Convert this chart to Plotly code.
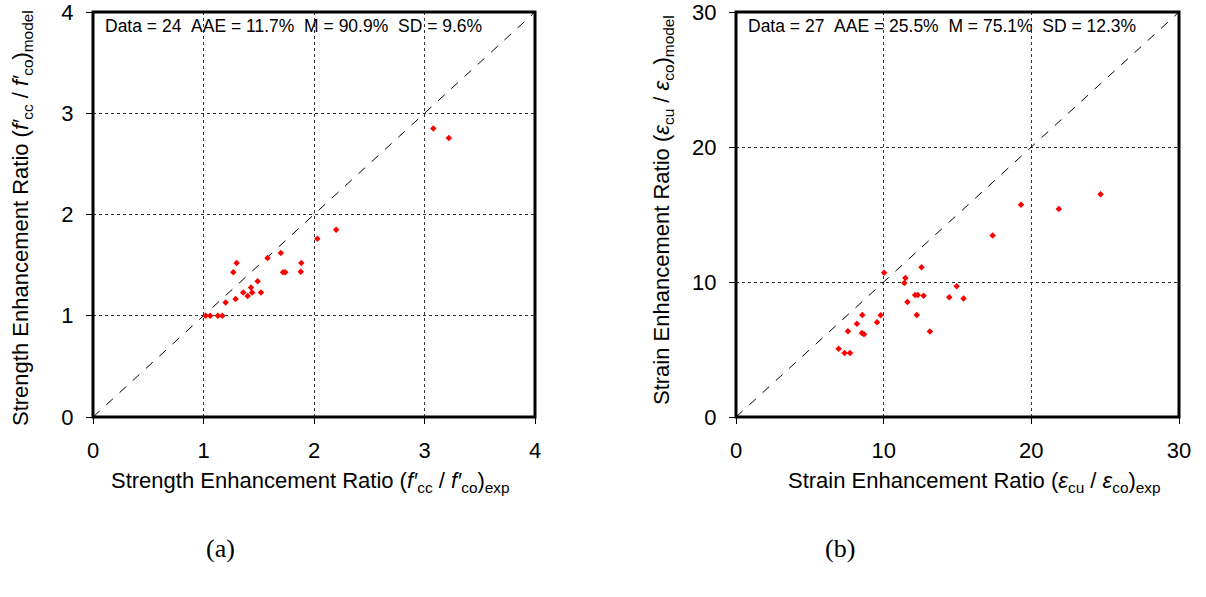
import plotly.graph_objects as go

# (a) strength enhancement ratio
a_exp = [1.02, 1.06, 1.13, 1.17, 1.20, 1.29, 1.27, 1.30, 1.36, 1.40, 1.43, 1.44,
         1.49, 1.52, 1.58, 1.70, 1.72, 1.74, 1.885, 1.88, 2.03, 2.20, 3.08, 3.22]
a_model = [1.00, 1.00, 1.00, 1.00, 1.13, 1.165, 1.43, 1.52, 1.23, 1.195, 1.28, 1.23,
           1.34, 1.23, 1.57, 1.62, 1.43, 1.43, 1.52, 1.435, 1.76, 1.85, 2.85, 2.755]

# (b) strain enhancement ratio
b_exp = [24.69, 19.3, 21.86, 17.38, 12.56, 10.03, 11.47, 11.4, 14.94, 12.13, 12.31,
         12.7, 14.44, 15.41, 11.61, 12.24, 9.8, 8.55, 9.55, 8.19, 13.13, 8.53, 8.67,
         7.58, 6.95, 7.35, 7.72]
b_model = [16.5, 15.72, 15.4, 13.45, 11.09, 10.69, 10.3, 9.93, 9.68, 9.04, 9.04,
           8.99, 8.87, 8.77, 8.52, 7.56, 7.54, 7.56, 7.02, 6.9, 6.33, 6.23, 6.13,
           6.36, 5.05, 4.75, 4.75]

a_ticks = [0, 1, 2, 3, 4]
b_ticks = [0, 10, 20, 30]

stats_a = "Data = 24\u00a0\u00a0AAE = 11.7%\u00a0\u00a0M = 90.9%\u00a0\u00a0SD = 9.6%"
stats_b = "Data = 27\u00a0\u00a0AAE = 25.5%\u00a0\u00a0M = 75.1%\u00a0\u00a0SD = 12.3%"

xt_a = "Strength Enhancement Ratio (<i>f′</i><sub>cc</sub> / <i>f′</i><sub>co</sub>)<sub>exp</sub>"
yt_a = "Strength Enhancement Ratio (<i>f′</i><sub>cc</sub> / <i>f′</i><sub>co</sub>)<sub>model</sub>"
xt_b = "Strain Enhancement Ratio (<i>ε</i><sub>cu</sub> / <i>ε</i><sub>co</sub>)<sub>exp</sub>"
yt_b = "Strain Enhancement Ratio (<i>ε</i><sub>cu</sub> / <i>ε</i><sub>co</sub>)<sub>model</sub>"

FONT = "Liberation Sans, Arial, sans-serif"
SERIF = "Liberation Serif, Times New Roman, serif"
W, H = 1206, 597

fig = go.Figure()

# 1:1 lines
fig.add_trace(go.Scatter(x=[a_ticks[0], a_ticks[-1]], y=[a_ticks[0], a_ticks[-1]],
                         mode="lines", line=dict(color="black", width=1, dash="dash"),
                         xaxis="x", yaxis="y", showlegend=False, hoverinfo="skip"))
fig.add_trace(go.Scatter(x=[b_ticks[0], b_ticks[-1]], y=[b_ticks[0], b_ticks[-1]],
                         mode="lines", line=dict(color="black", width=1, dash="dash"),
                         xaxis="x2", yaxis="y2", showlegend=False, hoverinfo="skip"))

fig.add_trace(go.Scatter(x=a_exp, y=a_model, mode="markers",
                         marker=dict(symbol="diamond", size=5, color="#ff0000"),
                         xaxis="x", yaxis="y", showlegend=False))
fig.add_trace(go.Scatter(x=b_exp, y=b_model, mode="markers",
                         marker=dict(symbol="diamond", size=5, color="#ff0000"),
                         xaxis="x2", yaxis="y2", showlegend=False))

ax_common = dict(showline=False, automargin=False,
                 ticks="outside", ticklen=6, tickwidth=1, tickcolor="black",
                 showgrid=True, gridcolor="#333333", griddash="dot", gridwidth=1,
                 zeroline=False, tickfont=dict(family=FONT, size=22, color="black"),
                 ticklabelstandoff=8, ticklabeloverflow="allow")

ydom = [1 - 417 / H, 1 - 12 / H]
xdom_a = [93 / W, 535 / W]
xdom_b = [736 / W, 1179 / W]

fig.update_layout(
    width=W, height=H,
    margin=dict(l=0, r=0, t=0, b=0),
    paper_bgcolor="white", plot_bgcolor="white",
    xaxis=dict(domain=xdom_a, range=[0, 4], tickvals=a_ticks, anchor="y", **ax_common),
    yaxis=dict(domain=ydom, range=[0, 4], tickvals=a_ticks, anchor="x", **ax_common),
    xaxis2=dict(domain=xdom_b, range=[0, 30], tickvals=b_ticks, anchor="y2", **ax_common),
    yaxis2=dict(domain=ydom, range=[0, 30], tickvals=b_ticks, anchor="x2", **ax_common),
    shapes=[
        dict(type="rect", xref="x domain", yref="y domain", x0=0, x1=1, y0=0, y1=1,
             line=dict(color="black", width=3), layer="above"),
        dict(type="rect", xref="x2 domain", yref="y2 domain", x0=0, x1=1, y0=0, y1=1,
             line=dict(color="black", width=3), layer="above"),
    ],
    annotations=[
        dict(text=stats_a, xref="x domain", yref="paper", x=10 / 442, y=1 - 26 / H,
             xanchor="left", yanchor="middle", showarrow=False,
             font=dict(family=FONT, size=17.5, color="black")),
        dict(text=stats_b, xref="x2 domain", yref="paper", x=10 / 443, y=1 - 26 / H,
             xanchor="left", yanchor="middle", showarrow=False,
             font=dict(family=FONT, size=17.5, color="black")),
        dict(text=xt_a, xref="paper", yref="paper", x=310 / W, y=1 - 482 / H,
             xanchor="center", yanchor="middle", showarrow=False,
             font=dict(family=FONT, size=22, color="black")),
        dict(text=xt_b, xref="paper", yref="paper", x=974 / W, y=1 - 482 / H,
             xanchor="center", yanchor="middle", showarrow=False,
             font=dict(family=FONT, size=22, color="black")),
        dict(text=yt_a, xref="paper", yref="paper", x=22 / W, y=1 - 218 / H,
             xanchor="center", yanchor="middle", showarrow=False, textangle=-90,
             font=dict(family=FONT, size=22, color="black")),
        dict(text=yt_b, xref="paper", yref="paper", x=663 / W, y=1 - 210 / H,
             xanchor="center", yanchor="middle", showarrow=False, textangle=-90,
             font=dict(family=FONT, size=22, color="black")),
        dict(text="(a)", xref="paper", yref="paper", x=220 / W, y=1 - 548 / H,
             xanchor="center", yanchor="middle", showarrow=False,
             font=dict(family=SERIF, size=26, color="black")),
        dict(text="(b)", xref="paper", yref="paper", x=840 / W, y=1 - 548 / H,
             xanchor="center", yanchor="middle", showarrow=False,
             font=dict(family=SERIF, size=26, color="black")),
    ],
)

fig.write_html("out.html")
